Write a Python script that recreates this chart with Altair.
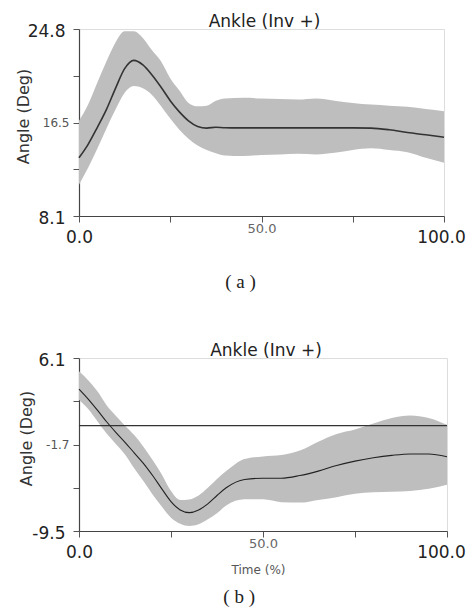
import altair as alt
import pandas as pd

# ---- data ----
x_pct = [0, 2.5, 5, 7.5, 10, 12.5, 15, 17.5, 20, 22.5, 25, 27.5, 30, 32.5, 35,
         37.5, 40, 45, 50, 55, 60, 65, 70, 75, 80, 85, 90, 95, 100]

a_mean = [13.3, 14.5, 16.0, 17.6, 19.5, 21.26, 22.0, 21.6, 20.7, 19.6, 18.4, 17.4,
          16.6, 16.1, 15.95, 16.03, 15.98, 15.97, 15.97, 15.97, 15.97, 15.97, 15.97,
          15.97, 15.95, 15.8, 15.55, 15.35, 15.14]
a_upper = [16.6, 18.05, 20.0, 21.9, 23.6, 24.6, 24.6, 24.0, 22.9, 21.9, 20.4, 19.3,
           18.2, 17.9, 17.95, 18.4, 18.6, 18.65, 18.6, 18.55, 18.5, 18.6, 18.4, 18.2,
           18.05, 17.95, 17.85, 17.65, 17.46]
a_lower = [10.9, 12.4, 14.1, 15.9, 17.6, 19.1, 19.7, 19.5, 18.9, 17.9, 16.8, 15.8,
           15.0, 14.4, 14.0, 13.7, 13.5, 13.45, 13.55, 13.6, 13.66, 13.6, 13.75, 14.0,
           14.15, 14.0, 13.8, 13.3, 12.85]

b_mean = [3.3, 2.4, 1.4, 0.35, -0.6, -1.5, -2.45, -3.4, -4.5, -5.7, -6.85, -7.6,
          -7.84, -7.6, -7.05, -6.3, -5.6, -4.85, -4.74, -4.74, -4.5, -4.1, -3.6, -3.2,
          -2.9, -2.68, -2.55, -2.56, -2.8]
b_upper = [4.9, 4.1, 3.1, 1.85, 0.9, 0.0, -0.85, -1.9, -3.1, -4.4, -5.9, -6.7,
           -6.65, -6.3, -5.6, -4.8, -4.1, -3.0, -2.78, -2.65, -2.25, -1.45, -0.75,
           -0.35, 0.2, 0.7, 0.92, 0.7, 0.08]
b_lower = [2.34, 1.5, 0.4, -0.7, -1.65, -2.6, -3.85, -5.0, -6.2, -7.3, -8.3, -8.85,
           -9.05, -8.9, -8.45, -7.9, -7.2, -6.64, -6.64, -6.9, -6.94, -6.7, -6.45,
           -6.15, -6.0, -5.97, -5.9, -5.7, -5.34]

b_reference = [0.0]

a_y_ticks = [8.1, 12.275, 16.45, 20.625, 24.8]
a_y_labels = ["8.1", "", "16.5", "", "24.8"]
b_y_ticks = [-9.5, -5.6, -1.7, 2.2, 6.1]
b_y_labels = ["-9.5", "", "-1.7", "", "6.1"]
x_ticks = [0, 25, 50, 75, 100]
x_labels = ["0.0", "", "50.0", "", "100.0"]

panel_title = "Ankle (Inv +)"
y_title = "Angle (Deg)"
x_title_b = "Time (%)"
caption_a = "( a )"
caption_b = "( b )"

FONT = "DejaVu Sans"
SERIF = "Liberation Serif"
BAND = "#bebebe"


def label_expr(vals, labels):
    expr = "''"
    for v, lab in zip(vals, labels):
        expr = f"datum.value == {v} ? '{lab}' : " + expr
    return expr


def cond(test, small, big):
    return {"condition": {"test": test, "value": small}, "value": big}


def x_axis(small_test, last_shift, **kw):
    return alt.Axis(
        values=x_ticks, labelExpr=label_expr(x_ticks, x_labels), grid=False,
        labelFlush=False, labelFont=FONT,
        labelFontSize=cond(small_test, 13, 17),
        labelColor=cond(small_test, "#666666", "#222222"),
        labelPadding=cond(small_test, 0, 7),
        labelOffset=cond("datum.value == 100", last_shift, 0),
        tickSize=6, tickColor="#555555", domainColor="#444444", domainWidth=1.2,
        **kw)


def y_axis(vals, labels, small_test, **kw):
    return alt.Axis(
        values=vals, labelExpr=label_expr(vals, labels), grid=False,
        labelFlush=False, labelFont=FONT,
        labelFontSize=cond(small_test, 12, 17),
        labelColor=cond(small_test, "#555555", "#222222"),
        labelPadding=cond(small_test, 4, 8),
        labelOffset=cond(small_test, 0, 2),
        tickSize=6, tickColor="#555555", domainColor="#444444", domainWidth=1.2,
        title=y_title, titleFont=FONT, titleFontSize=16, titleFontWeight="normal",
        titleColor="#333333", titleBaseline="middle", **kw)


df_a = pd.DataFrame({"x": x_pct, "mean": a_mean, "upper": a_upper, "lower": a_lower})
df_b = pd.DataFrame({"x": x_pct, "mean": b_mean, "upper": b_upper, "lower": b_lower})
df_ref = pd.DataFrame({"ref": b_reference})

# ---- panel (a) ----
xs_a = alt.Scale(domain=[0, 100], nice=False, zero=False)
ys_a = alt.Scale(domain=[8.1, 24.8], nice=False, zero=False)
xa_a = x_axis("datum.value == 50", -3, title=caption_a, titleFont=SERIF, titleFontSize=19,
              titleFontWeight="normal", titleColor="#222222", titleX=161, titleY=65,
              titleBaseline="middle")
ya_a = y_axis(a_y_ticks, a_y_labels, "datum.value == 16.45", titleX=-56, titleY=87)

base_a = alt.Chart(df_a)
band_a = base_a.mark_area(color=BAND, opacity=1, interpolate="monotone").encode(
    x=alt.X("x:Q", scale=xs_a, axis=xa_a),
    y=alt.Y("lower:Q", scale=ys_a, axis=ya_a),
    y2="upper:Q",
)
line_a = base_a.mark_line(color="#333333", strokeWidth=1.6, interpolate="monotone").encode(
    x=alt.X("x:Q", scale=xs_a, axis=xa_a),
    y=alt.Y("mean:Q", scale=ys_a, axis=ya_a),
)
panel_a = alt.layer(band_a, line_a).properties(
    width=365, height=187,
    title=alt.TitleParams(panel_title, font=FONT, fontSize=17, fontWeight="normal",
                          color="#222222", offset=-9, dx=3),
)

# ---- panel (b) ----
xs_b = alt.Scale(domain=[0, 100], nice=False, zero=False)
ys_b = alt.Scale(domain=[-9.5, 6.1], nice=False, zero=False)
xa_b = x_axis("datum.value == 50", -6, title=x_title_b, titleFont=FONT, titleFontSize=12,
              titleFontWeight="normal", titleColor="#555555", titleX=179, titleY=38,
              titleBaseline="middle")
ya_b = y_axis(b_y_ticks, b_y_labels, "datum.value == -1.7", titleX=-53, titleY=80)

base_b = alt.Chart(df_b)
band_b = base_b.mark_area(color=BAND, opacity=1, interpolate="monotone").encode(
    x=alt.X("x:Q", scale=xs_b, axis=xa_b),
    y=alt.Y("lower:Q", scale=ys_b, axis=ya_b),
    y2="upper:Q",
)
line_b = base_b.mark_line(color="#222222", strokeWidth=1.1, interpolate="monotone").encode(
    x=alt.X("x:Q", scale=xs_b, axis=xa_b),
    y=alt.Y("mean:Q", scale=ys_b, axis=ya_b),
)
zero_b = alt.Chart(df_ref).mark_rule(color="#333333", strokeWidth=1.1).encode(
    y=alt.Y("ref:Q", scale=ys_b, axis=ya_b),
)
panel_b = alt.layer(band_b, zero_b, line_b).properties(
    width=368, height=173,
    title=alt.TitleParams(panel_title, font=FONT, fontSize=17, fontWeight="normal",
                          color="#222222", offset=-9, dx=3),
)

chart = alt.vconcat(panel_a, panel_b, spacing=49).properties(
    padding={"left": 6, "top": 4, "right": 0, "bottom": 0},
    title=alt.TitleParams(caption_b, orient="bottom", anchor="middle", font=SERIF,
                          fontSize=19, fontWeight="normal", color="#222222",
                          offset=12, dx=-1),
).configure_view(stroke="transparent").configure(background="white")

chart.save("out.html", embed_options={"renderer": "svg", "actions": False})
